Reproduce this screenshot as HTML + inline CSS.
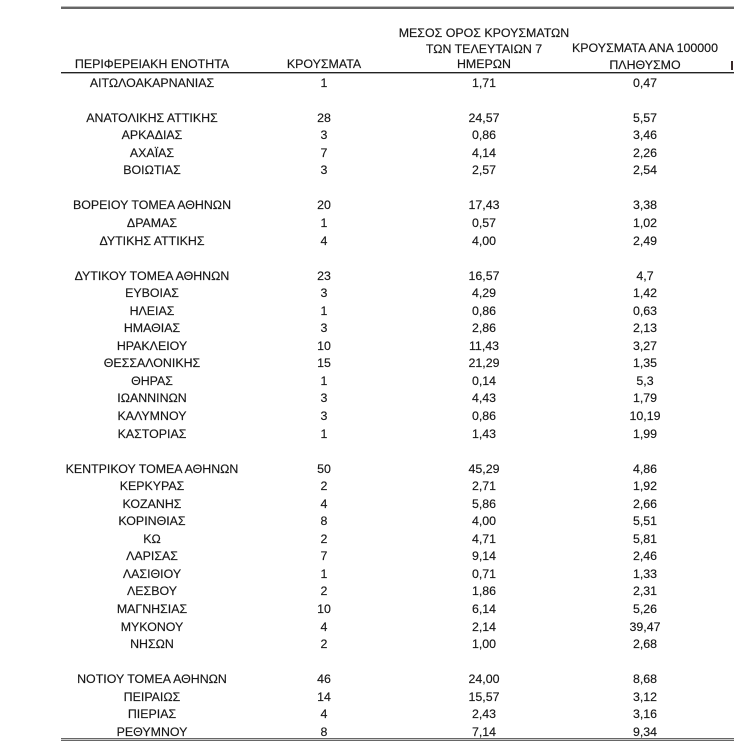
<!DOCTYPE html>
<html>
<head>
<meta charset="utf-8">
<style>
html,body{margin:0;padding:0;background:#fff;}
body{width:734px;height:754px;position:relative;overflow:hidden;
 font-family:"Liberation Sans","Noto Sans CJK SC",sans-serif;font-size:12.4px;color:#161616;-webkit-text-stroke:0.15px #161616;}
.ln{position:absolute;}
.h{position:absolute;width:240px;text-align:center;line-height:17.55px;height:17.55px;white-space:nowrap;}
#tb{position:absolute;left:0;top:74.6px;width:734px;}
.row{height:17.55px;position:relative;line-height:17.55px;}
.row span{position:absolute;top:0;width:220px;text-align:center;white-space:nowrap;}
.a{left:42px}.b{left:214px}.c{left:374px}.d{left:535px}
</style>
</head>
<body>
<div class="ln" style="left:61px;top:6px;width:673px;height:1px;background:#bbb"></div>
<div class="ln" style="left:61px;top:7px;width:673px;height:2px;background:#666"></div>

<div class="h" style="left:364px;top:24.7px">ΜΕΣΟΣ ΟΡΟΣ ΚΡΟΥΣΜΑΤΩΝ</div>
<div class="h" style="left:364px;top:40.6px">ΤΩΝ ΤΕΛΕΥΤΑΙΩΝ 7</div>
<div class="h" style="left:525px;top:40px">ΚΡΟΥΣΜΑΤΑ ΑΝΑ 100000</div>
<div class="h" style="left:32px;top:56.4px">ΠΕΡΙΦΕΡΕΙΑΚΗ ΕΝΟΤΗΤΑ</div>
<div class="h" style="left:204px;top:56.4px">ΚΡΟΥΣΜΑΤΑ</div>
<div class="h" style="left:364px;top:56.4px">ΗΜΕΡΩΝ</div>
<div class="h" style="left:525px;top:56.6px">ΠΛΗΘΥΣΜΟ</div>
<div class="ln" style="left:731px;top:61px;width:2px;height:9px;background:#3a2a2a"></div>

<div class="ln" style="left:61px;top:72px;width:673px;height:1px;background:#222"></div>
<div class="ln" style="left:61px;top:73px;width:673px;height:1px;background:#aaa"></div>

<div id="tb">
<div class="row"><span class="a">ΑΙΤΩΛΟΑΚΑΡΝΑΝΙΑΣ</span><span class="b">1</span><span class="c">1,71</span><span class="d">0,47</span></div>
<div class="row"></div>
<div class="row"><span class="a">ΑΝΑΤΟΛΙΚΗΣ ΑΤΤΙΚΗΣ</span><span class="b">28</span><span class="c">24,57</span><span class="d">5,57</span></div>
<div class="row"><span class="a">ΑΡΚΑΔΙΑΣ</span><span class="b">3</span><span class="c">0,86</span><span class="d">3,46</span></div>
<div class="row"><span class="a">ΑΧΑΪΑΣ</span><span class="b">7</span><span class="c">4,14</span><span class="d">2,26</span></div>
<div class="row"><span class="a">ΒΟΙΩΤΙΑΣ</span><span class="b">3</span><span class="c">2,57</span><span class="d">2,54</span></div>
<div class="row"></div>
<div class="row"><span class="a">ΒΟΡΕΙΟΥ ΤΟΜΕΑ ΑΘΗΝΩΝ</span><span class="b">20</span><span class="c">17,43</span><span class="d">3,38</span></div>
<div class="row"><span class="a">ΔΡΑΜΑΣ</span><span class="b">1</span><span class="c">0,57</span><span class="d">1,02</span></div>
<div class="row"><span class="a">ΔΥΤΙΚΗΣ ΑΤΤΙΚΗΣ</span><span class="b">4</span><span class="c">4,00</span><span class="d">2,49</span></div>
<div class="row"></div>
<div class="row"><span class="a">ΔΥΤΙΚΟΥ ΤΟΜΕΑ ΑΘΗΝΩΝ</span><span class="b">23</span><span class="c">16,57</span><span class="d">4,7</span></div>
<div class="row"><span class="a">ΕΥΒΟΙΑΣ</span><span class="b">3</span><span class="c">4,29</span><span class="d">1,42</span></div>
<div class="row"><span class="a">ΗΛΕΙΑΣ</span><span class="b">1</span><span class="c">0,86</span><span class="d">0,63</span></div>
<div class="row"><span class="a">ΗΜΑΘΙΑΣ</span><span class="b">3</span><span class="c">2,86</span><span class="d">2,13</span></div>
<div class="row"><span class="a">ΗΡΑΚΛΕΙΟΥ</span><span class="b">10</span><span class="c">11,43</span><span class="d">3,27</span></div>
<div class="row"><span class="a">ΘΕΣΣΑΛΟΝΙΚΗΣ</span><span class="b">15</span><span class="c">21,29</span><span class="d">1,35</span></div>
<div class="row"><span class="a">ΘΗΡΑΣ</span><span class="b">1</span><span class="c">0,14</span><span class="d">5,3</span></div>
<div class="row"><span class="a">ΙΩΑΝΝΙΝΩΝ</span><span class="b">3</span><span class="c">4,43</span><span class="d">1,79</span></div>
<div class="row"><span class="a">ΚΑΛΥΜΝΟΥ</span><span class="b">3</span><span class="c">0,86</span><span class="d">10,19</span></div>
<div class="row"><span class="a">ΚΑΣΤΟΡΙΑΣ</span><span class="b">1</span><span class="c">1,43</span><span class="d">1,99</span></div>
<div class="row"></div>
<div class="row"><span class="a">ΚΕΝΤΡΙΚΟΥ ΤΟΜΕΑ ΑΘΗΝΩΝ</span><span class="b">50</span><span class="c">45,29</span><span class="d">4,86</span></div>
<div class="row"><span class="a">ΚΕΡΚΥΡΑΣ</span><span class="b">2</span><span class="c">2,71</span><span class="d">1,92</span></div>
<div class="row"><span class="a">ΚΟΖΑΝΗΣ</span><span class="b">4</span><span class="c">5,86</span><span class="d">2,66</span></div>
<div class="row"><span class="a">ΚΟΡΙΝΘΙΑΣ</span><span class="b">8</span><span class="c">4,00</span><span class="d">5,51</span></div>
<div class="row"><span class="a">ΚΩ</span><span class="b">2</span><span class="c">4,71</span><span class="d">5,81</span></div>
<div class="row"><span class="a">ΛΑΡΙΣΑΣ</span><span class="b">7</span><span class="c">9,14</span><span class="d">2,46</span></div>
<div class="row"><span class="a">ΛΑΣΙΘΙΟΥ</span><span class="b">1</span><span class="c">0,71</span><span class="d">1,33</span></div>
<div class="row"><span class="a">ΛΕΣΒΟΥ</span><span class="b">2</span><span class="c">1,86</span><span class="d">2,31</span></div>
<div class="row"><span class="a">ΜΑΓΝΗΣΙΑΣ</span><span class="b">10</span><span class="c">6,14</span><span class="d">5,26</span></div>
<div class="row"><span class="a">ΜΥΚΟΝΟΥ</span><span class="b">4</span><span class="c">2,14</span><span class="d">39,47</span></div>
<div class="row"><span class="a">ΝΗΣΩΝ</span><span class="b">2</span><span class="c">1,00</span><span class="d">2,68</span></div>
<div class="row"></div>
<div class="row"><span class="a">ΝΟΤΙΟΥ ΤΟΜΕΑ ΑΘΗΝΩΝ</span><span class="b">46</span><span class="c">24,00</span><span class="d">8,68</span></div>
<div class="row"><span class="a">ΠΕΙΡΑΙΩΣ</span><span class="b">14</span><span class="c">15,57</span><span class="d">3,12</span></div>
<div class="row"><span class="a">ΠΙΕΡΙΑΣ</span><span class="b">4</span><span class="c">2,43</span><span class="d">3,16</span></div>
<div class="row"><span class="a">ΡΕΘΥΜΝΟΥ</span><span class="b">8</span><span class="c">7,14</span><span class="d">9,34</span></div>
</div>

<div class="ln" style="left:61px;top:738px;width:673px;height:1px;background:#666"></div>
<div class="ln" style="left:61px;top:739px;width:673px;height:1px;background:#ccc"></div>
<div class="ln" style="left:61px;top:740px;width:673px;height:1px;background:#666"></div>
</body>
</html>
